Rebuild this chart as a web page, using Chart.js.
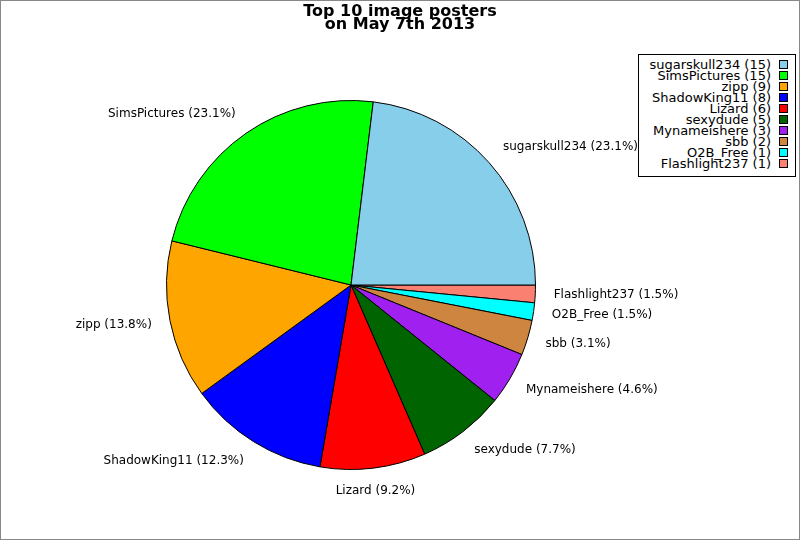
<!DOCTYPE html>
<html>
<head>
<meta charset="utf-8">
<script src="https://cdn.jsdelivr.net/npm/chart.js@4.4.1/dist/chart.umd.min.js"></script>
<style>
  html, body { margin: 0; padding: 0; background: #fff; }
  #wrap { position: relative; width: 800px; height: 540px; font-family: "DejaVu Sans", sans-serif; }
  #frame { position: absolute; left: 0; top: 0; width: 798px; height: 538px; border: 1px solid #888; pointer-events: none; }
  #titel { position: absolute; left: 0; top: 4px; width: 800px; text-align: center; font-weight: bold; font-size: 16px; line-height: 13px; color: #000; }
  #legenda { position: absolute; left: 638px; top: 54px; width: 156px; height: 117px; border: 1px solid #000; background: #fff; padding-top: 4px; box-sizing: content-box; }
  .red { position: relative; height: 11px; line-height: 11px; font-size: 13px; color: #000; }
  .red span.tekst { position: absolute; right: 24px; top: 0; white-space: nowrap; }
  .red span.kocka { position: absolute; left: 140px; top: 1px; width: 7px; height: 7px; border: 1px solid #000; }
</style>
</head>
<body>
<div id="wrap">
  <canvas id="pita" width="800" height="540"></canvas>
  <div id="titel">Top 10 image posters<br>on May 7th 2013</div>
  <div id="legenda"></div>
  <div id="frame"></div>
</div>
<script>
const imena = ["sugarskull234", "SimsPictures", "zipp", "ShadowKing11", "Lizard", "sexydude", "Mynameishere", "sbb", "O2B_Free", "Flashlight237"];
const broj = [15, 15, 9, 8, 6, 5, 3, 2, 1, 1];
const boje = ["#87CEEB", "#00FF00", "#FFA500", "#0000FF", "#FF0000", "#006400", "#A020F0", "#CD853F", "#00FFFF", "#FA8072"];

const ukupno = broj.reduce((a, b) => a + b, 0);

// legenda
const divLegenda = document.getElementById("legenda");
divLegenda.innerHTML = imena.map((ime, i) =>
    `<div class="red"><span class="tekst">${ime} (${broj[i]})</span><span class="kocka" style="background:${boje[i]}"></span></div>`
).join("");

// pita ide u smjeru kazaljke, pa okrecemo redoslijed
const labele = imena.slice().reverse();
const podaci = broj.slice().reverse();
const bojeR = boje.slice().reverse();

const oznakePlugin = {
    id: "oznake",
    afterDatasetsDraw(chart) {
        const ctx = chart.ctx;
        const meta = chart.getDatasetMeta(0);
        ctx.save();
        ctx.font = "12px 'DejaVu Sans'";
        ctx.fillStyle = "#000";
        ctx.textBaseline = "middle";
        meta.data.forEach((arc, i) => {
            const ugao = (arc.startAngle + arc.endAngle) / 2;
            const x = arc.x + Math.cos(ugao) * arc.outerRadius * 1.1;
            const y = arc.y + Math.sin(ugao) * arc.outerRadius * 1.125;
            const c = Math.cos(ugao);
            ctx.textAlign = c > 0.3 ? "left" : (c < -0.3 ? "right" : "center");
            const posto = (podaci[i] / ukupno * 100).toFixed(1);
            ctx.fillText(`${labele[i]} (${posto}%)`, x, y);
        });
        ctx.restore();
    }
};

new Chart(document.getElementById("pita").getContext("2d"), {
    type: "pie",
    data: {
        labels: labele,
        datasets: [{
            data: podaci,
            backgroundColor: bojeR,
            borderColor: "#000",
            borderWidth: 1,
        }]
    },
    options: {
        responsive: false,
        animation: false,
        rotation: 90,
        layout: { padding: { left: 166, right: 264, top: 100, bottom: 70 } },
        plugins: {
            legend: { display: false },
            title: { display: false },
            tooltip: { enabled: false }
        }
    },
    plugins: [oznakePlugin]
});
</script>
</body>
</html>
